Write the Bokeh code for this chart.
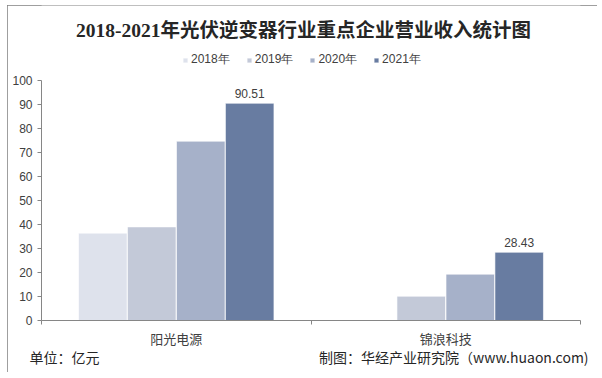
from bokeh.plotting import figure
from bokeh.models import (ColumnDataSource, Range1d, FixedTicker, Legend, LegendItem,
                          Label, LinearAxis)
from bokeh.transform import dodge
from bokeh.core.properties import value
from bokeh.embed import file_html
from bokeh.resources import INLINE

# ---- data ----
companies = ["阳光电源", "锦浪科技"]
years = ["2018年", "2019年", "2020年", "2021年"]
rev_2018 = [36.4, 0.0]
rev_2019 = [39.0, 10.1]
rev_2020 = [74.7, 19.3]
rev_2021 = [90.51, 28.43]
y_ticks = [0, 10, 20, 30, 40, 50, 60, 70, 80, 90, 100]
title_text = "2018-2021年光伏逆变器行业重点企业营业收入统计图"
unit_text = "单位：亿元"
source_text = "制图：华经产业研究院（www.huaon.com)"

colors = ["#DEE2EC", "#C3C9D8", "#A6B1C9", "#687CA1"]
offsets = [-0.2725, -0.091, 0.091, 0.2725]

CJK = "Noto Sans CJK SC"
LAT = "Liberation Sans"

n = len(companies)
centers = [i + 0.5 for i in range(n)]
bounds = list(range(n + 1))

# frame spans the full height above the x axis (so title/legend sit inside it);
# 0..100 occupies the lower 240 px of the 315 px frame
FRAME_H = 315
y_max = 100 * FRAME_H / 240

p = figure(width=590, height=367, x_range=Range1d(0, n), y_range=Range1d(0, y_max),
           output_backend="svg", toolbar_location=None, x_axis_location=None,
           min_border_left=34, min_border_right=17, min_border_top=0, min_border_bottom=52)
p.margin = (5, 0, 0, 7)
p.outline_line_color = None
p.grid.grid_line_color = None
p.background_fill_color = "white"
p.border_fill_color = "white"
p.styles = {"outline": "1px solid #7f7f7f", "outline-offset": "-1px"}

src = ColumnDataSource(dict(xc=centers, y0=rev_2018, y1=rev_2019, y2=rev_2020, y3=rev_2021,
                            lab=["" if v == 0 else f"{v:.2f}" for v in rev_2021]))
renderers = []
for i, key in enumerate(["y0", "y1", "y2", "y3"]):
    r = p.vbar(x=dodge("xc", offsets[i]), top=key, width=0.18,
               source=src, fill_color=colors[i], line_color="white", line_width=0.6)
    renderers.append(r)

p.text(x=dodge("xc", offsets[3]), y="y3", text="lab", source=src,
       text_align="center", text_baseline="bottom", y_offset=-5,
       text_font=value(LAT), text_font_size="12px", text_color="#404040")

# y axis (line and ticks only over 0..100)
p.yaxis.ticker = FixedTicker(ticks=y_ticks)
p.yaxis.bounds = (y_ticks[0], y_ticks[-1])
p.yaxis.axis_line_color = "#868686"
p.yaxis.major_tick_line_color = "#868686"
p.yaxis.major_tick_in = 0
p.yaxis.major_tick_out = 4
p.yaxis.minor_tick_line_color = None
p.yaxis.major_label_standoff = 5
p.yaxis.major_label_text_font = LAT
p.yaxis.major_label_text_font_size = "12px"
p.yaxis.major_label_text_color = "#404040"

# x axis: boundary ticks, then category labels, then footer notes
tick_axis = LinearAxis(ticker=FixedTicker(ticks=bounds),
                       axis_line_color="#868686", major_tick_line_color="#868686",
                       major_tick_in=0, major_tick_out=4, minor_tick_line_color=None,
                       major_label_text_font_size="0px", major_label_standoff=0,
                       major_label_overrides={b: "" for b in bounds})
p.add_layout(tick_axis, "below")
cat_axis = LinearAxis(ticker=FixedTicker(ticks=centers),
                      major_label_overrides={c: name for c, name in zip(centers, companies)},
                      axis_line_color=None, major_tick_line_color=None,
                      minor_tick_line_color=None, major_label_standoff=-2,
                      major_label_text_font=CJK, major_label_text_font_size="13px",
                      major_label_text_color="#404040")
p.add_layout(cat_axis, "below")
note_pos = [0.085, 1.53]
note_axis = LinearAxis(ticker=FixedTicker(ticks=note_pos),
                       major_label_overrides={note_pos[0]: unit_text, note_pos[1]: source_text},
                       axis_line_color=None, major_tick_line_color=None,
                       minor_tick_line_color=None, major_label_standoff=-10,
                       major_label_text_font=CJK, major_label_text_font_size="14px",
                       major_label_text_color="#262626")
p.add_layout(note_axis, "below")

legend = Legend(items=[LegendItem(label=years[i], renderers=[renderers[i]]) for i in range(4)],
                orientation="horizontal", location=(141, 252), padding=0, margin=0,
                border_line_color=None, background_fill_alpha=0,
                glyph_width=6, glyph_height=6, label_standoff=3, spacing=16,
                label_height=14, label_text_font=LAT, label_text_font_size="12px",
                label_text_color="#404040")
p.add_layout(legend, "center")

p.add_layout(Label(x=262, y=FRAME_H - 25, x_units="screen", y_units="screen",
                   text=title_text, text_align="center", text_baseline="middle",
                   text_font="Liberation Serif, Noto Sans CJK SC", text_font_style="bold",
                   text_font_size="19.5px", text_color="#262626"))

open("out.html", "w").write(file_html(p, INLINE))
